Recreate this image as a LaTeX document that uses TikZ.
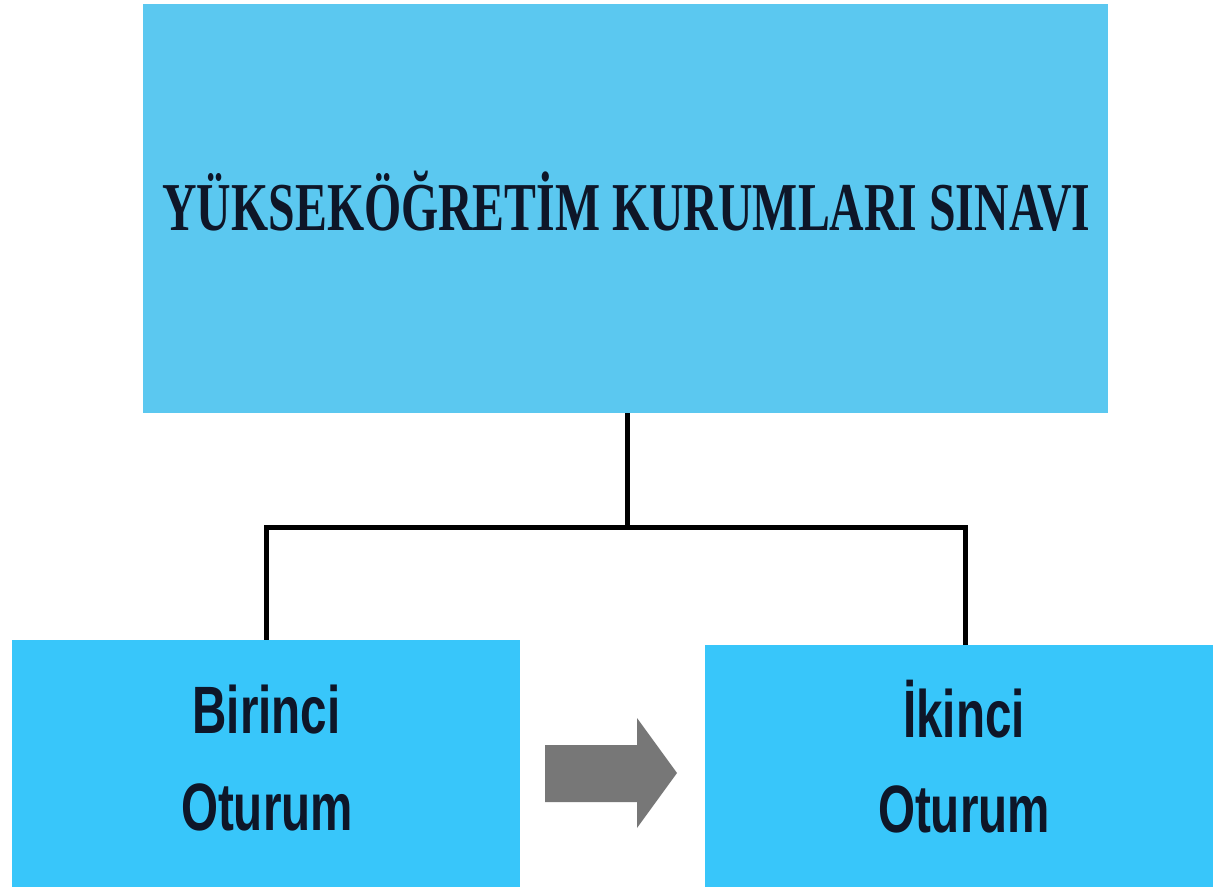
\documentclass[tikz,border=0pt]{standalone}
\usepackage{fontspec}
\newfontfamily\titlefont[FakeStretch=0.708]{Liberation Serif Bold}
\newfontfamily\boxfont[FakeStretch=0.71]{Liberation Sans Bold}
\definecolor{topblue}{HTML}{5BC8F0}
\definecolor{botblue}{HTML}{38C6FA}
\definecolor{inkc}{HTML}{0E1628}
\definecolor{arrowgray}{HTML}{777777}
\tikzset{
  topbox/.style={rectangle, fill=topblue, inner sep=0pt, minimum width=965pt, minimum height=409pt},
  titletext/.style={anchor=base, inner sep=0pt, font=\titlefont\fontsize{68.5}{80}\selectfont, text=inkc},
  sessbox/.style={rectangle, fill=botblue, inner sep=0pt, minimum width=508pt},
  sesstext/.style={anchor=base, inner sep=0pt, font=\boxfont\fontsize{67}{97}\selectfont, text=inkc},
  conn/.style={draw=black, line width=5pt},
}
\begin{document}
\begin{tikzpicture}[x=1pt, y=-1pt]
\useasboundingbox (0,0) rectangle (1213,888);
\fill[white] (0,0) rectangle (1213,888);
\node[topbox] (top) at (625.5,208.5) {};
\node[titletext, xscale=0.985, transform shape] (toptext) at (626.5,230) {YÜKSEKÖĞRETİM KURUMLARI SINAVI};
\node[sessbox, minimum height=247pt] (b1) at (266,763.5) {};
\node[sessbox, minimum height=242pt] (b2) at (959,766) {};
\node[sesstext] (b1a) at (266.5,733) {Birinci};
\node[sesstext] (b1b) at (267,830) {Oturum};
\node[sesstext] (b2a) at (964,737) {İkinci};
\node[sesstext] (b2b) at (964,832) {Oturum};
\coordinate (j) at (627,527);
\coordinate (jl) at (266,527);
\coordinate (jr) at (965,527);
\draw[conn] (j |- top.south) -- (j);
\draw[conn, line cap=rect] (jl) -- (jr);
\draw[conn] (jl |- b1.north) -- (jl);
\draw[conn] (jr |- b2.north) -- (jr);
\fill[arrowgray] (545,745) -- (637,745) -- (637,718) -- (677,773) -- (637,828) -- (637,802) -- (545,802) -- cycle;
\end{tikzpicture}
\end{document}
